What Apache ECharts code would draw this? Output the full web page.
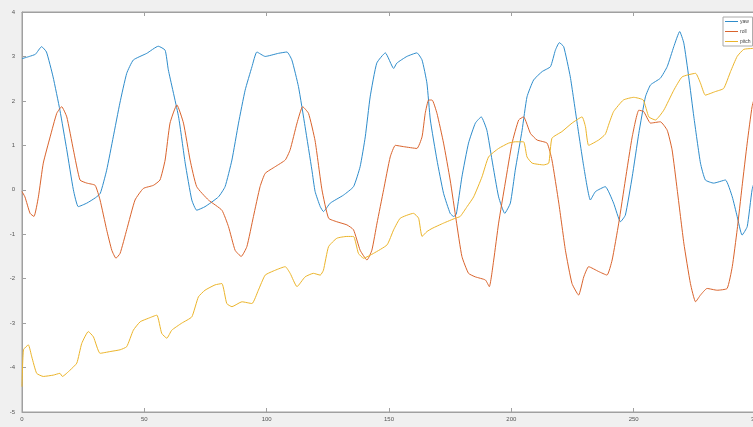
<!DOCTYPE html>
<html><head><meta charset="utf-8">
<script src="https://cdn.jsdelivr.net/npm/echarts@6/dist/echarts.min.js"></script>
<style>html,body{margin:0;padding:0;background:#f0f0f0;}#c{width:753px;height:427px;}</style>
</head><body><div id="c"></div>
<script>
const xTicks = [0, 50, 100, 150, 200, 250, 300];
const yTicks = [-5, -4, -3, -2, -1, 0, 1, 2, 3, 4];
const seriesNames = ['yaw', 'roll', 'pitch'];

const yawT = [0,3,5.5,8,10,12.7,15.5,18.3,21,23,26.5,30,32,34.6,37.3,40,42.8,45.5,51,55.7,58.5,59.8,64,66.7,69.4,71.4,74.8,80.3,83,85.8,88.5,91.2,94,96,99.4,104.8,108.3,110.3,113,115.7,118.5,119.8,121.9,123.2,126,131.4,135.5,138.2,140.3,142.3,145,148.5,151.9,153.2,157.3,161.4,163.5,165.5,166.9,169.6,172.3,175,176.4,177.5,179.8,182.5,185.3,187.7,190,192.1,194.8,197.3,199.6,201.6,204.4,206.4,209.1,212.6,216,218,219.6,221.4,224.1,226.9,229.6,232.3,234.4,238.4,241.8,244.6,246.6,249.4,252.1,254.8,256.9,260.9,263.7,266.4,268.8,270.5,272.5,274.6,277.3,279.3,282.7,287.5,290.3,292.3,294.3,296.4,298.4,300];
const yawV = [2.95,3.0,3.05,3.22,3.1,2.54,1.79,0.9,0.0,-0.38,-0.3,-0.18,-0.08,0.44,1.19,1.95,2.62,2.92,3.07,3.23,3.14,2.7,1.64,0.6,-0.23,-0.46,-0.38,-0.16,0.07,0.67,1.5,2.24,2.77,3.1,3.0,3.07,3.1,2.92,2.32,1.42,0.44,-0.04,-0.38,-0.49,-0.3,-0.12,0.07,0.52,1.19,2.09,2.85,3.08,2.73,2.85,3.0,3.08,2.92,2.4,1.57,0.67,-0.08,-0.53,-0.6,-0.55,0.29,1.05,1.5,1.64,1.34,0.67,-0.16,-0.53,-0.3,0.44,1.34,2.09,2.47,2.66,2.77,3.14,3.31,3.22,2.54,1.5,0.52,-0.23,-0.04,0.07,-0.3,-0.72,-0.57,0.29,1.27,2.09,2.36,2.51,2.77,3.22,3.56,3.3,2.54,1.64,0.6,0.22,0.15,0.22,-0.16,-0.6,-1.02,-0.83,0.0,0.3];

const rollT = [0,1.2,3.3,4.9,6.7,8.7,11.5,14.2,16.2,18.3,21,23.7,26.5,29.9,31.9,34.6,36.7,38.4,40.1,42.8,46.2,49.6,53.7,56.4,58.5,60.5,63.3,66,68.7,71.4,76.2,81.7,84.4,87.1,89.6,91.9,94.6,97.3,99.4,103.5,107.6,109.6,112.4,114.7,117.1,119.8,122.6,125.3,128.7,132.8,135.5,138.2,141,143,145.1,147.8,150.5,152.6,156,161.4,163.5,164.8,166.2,167.6,169.6,172.3,175,177.5,179.8,182.5,185.3,189.4,191,192.8,194.8,197.5,200.3,203,205,207.8,210.5,214.6,216.6,219.4,222.1,224.8,227.5,229.6,231.6,235.7,239.1,241.2,243.9,246.6,249.4,252.1,254.1,256.9,260.9,263.7,265.7,267.8,270.5,273.2,275.3,277.3,280,284.1,288.2,290.3,292.3,294.3,296.4,298.4,300];
const rollV = [-0.04,-0.16,-0.53,-0.6,-0.16,0.6,1.19,1.72,1.87,1.64,0.9,0.22,0.15,0.1,-0.23,-0.9,-1.36,-1.54,-1.43,-0.9,-0.23,0.03,0.1,0.22,0.67,1.5,1.91,1.5,0.67,0.07,-0.23,-0.46,-0.83,-1.36,-1.5,-1.28,-0.6,0.07,0.37,0.52,0.67,0.9,1.5,1.87,1.72,1.1,0.0,-0.64,-0.72,-0.79,-0.9,-1.36,-1.58,-1.36,-0.75,0.0,0.74,1.0,0.97,0.93,1.19,1.72,2.02,2.02,1.72,1.05,0.22,-0.7,-1.5,-1.88,-1.96,-2.03,-2.18,-1.58,-0.75,0.15,1.05,1.57,1.64,1.27,1.12,1.05,0.67,-0.3,-1.36,-2.11,-2.37,-1.96,-1.73,-1.84,-1.92,-1.58,-0.75,0.22,1.19,1.79,1.76,1.5,1.53,1.34,0.9,0.0,-1.2,-2.11,-2.52,-2.37,-2.22,-2.26,-2.22,-1.73,-0.9,0.07,1.05,1.87,2.2];

const pitchT = [0,0.6,2.6,4,6,8.7,12.8,15.5,16.5,19.6,22.4,24.4,27.1,29.2,31.9,36,40.1,42.8,45.5,48.3,51.7,55.1,57.1,59.2,61.2,65.3,69.4,72.1,74.8,78.9,81.7,83.7,85.8,89.9,94,96.6,99.4,103.5,107.6,109.6,112.4,115.7,119.1,121.9,123.2,125.3,128.7,132.8,135.5,137.5,139.6,143.7,149.2,151.9,154.6,160,162.1,163.5,165.5,167.6,172.3,177.1,179.1,181.9,184.6,188,190.7,194.8,198.9,201.6,205,206.4,208.5,213.2,215.3,216.6,220.7,224.8,228.9,230.3,231.6,235.7,238.4,240,241.8,245.8,250,253.9,256.2,258.9,262.3,266.4,269.8,275.3,277.3,279.3,283.4,286.8,289.6,292.3,295,298.4,300];
const pitchV = [-4.43,-3.6,-3.49,-3.76,-4.13,-4.2,-4.17,-4.13,-4.2,-4.06,-3.9,-3.46,-3.19,-3.31,-3.68,-3.64,-3.6,-3.53,-3.16,-2.97,-2.89,-2.82,-3.23,-3.34,-3.16,-3.0,-2.86,-2.41,-2.26,-2.14,-2.11,-2.56,-2.63,-2.52,-2.56,-2.26,-1.92,-1.81,-1.73,-1.88,-2.18,-1.96,-1.88,-1.92,-1.81,-1.28,-1.09,-1.05,-1.05,-1.43,-1.54,-1.43,-1.24,-0.9,-0.64,-0.53,-0.64,-1.05,-0.94,-0.87,-0.75,-0.64,-0.6,-0.38,-0.16,0.29,0.74,0.93,1.05,1.08,1.08,0.74,0.6,0.56,0.6,1.16,1.31,1.5,1.64,1.42,1.0,1.12,1.25,1.5,1.76,2.02,2.08,2.02,1.64,1.57,1.79,2.24,2.54,2.62,2.4,2.13,2.21,2.28,2.66,3.0,3.16,3.18,3.2];

const colors = ['#2e8ccb', '#d9632c', '#ebb42a'];
const zip = (t, v) => t.map((x, i) => [x, v[i]]);
const data = [zip(yawT, yawV), zip(rollT, rollV), zip(pitchT, pitchV)];

const chart = echarts.init(document.getElementById('c'));
const axisCommon = {
  type: 'value',
  axisLine: { show: true, onZero: false, lineStyle: { color: '#a0a0a0', width: 1 } },
  axisTick: { show: true, inside: true, length: 4, lineStyle: { color: '#a0a0a0' } },
  splitLine: { show: false },
};
chart.setOption({
  animation: false,
  color: colors,
  backgroundColor: '#f0f0f0',
  grid: { left: 22, top: 12, width: 734, height: 400, show: true, backgroundColor: '#ffffff', borderColor: '#a0a0a0', borderWidth: 1, containLabel: false, outerBoundsMode: 'none' },
  xAxis: [
    Object.assign({}, axisCommon, {
      min: xTicks[0], max: xTicks[xTicks.length - 1], interval: 50, position: 'bottom',
      axisLabel: { fontSize: 6, color: '#555', margin: 4, fontFamily: 'Liberation Sans' },
      name: 'Time/s', nameLocation: 'middle', nameGap: 10,
      nameTextStyle: { fontSize: 6, color: '#444', fontFamily: 'Liberation Sans' }
    }),
    Object.assign({}, axisCommon, {
      min: xTicks[0], max: xTicks[xTicks.length - 1], interval: 50, position: 'top',
      axisLabel: { show: false }
    })
  ],
  yAxis: [
    Object.assign({}, axisCommon, {
      min: yTicks[0], max: yTicks[yTicks.length - 1], interval: 1, position: 'left',
      axisLabel: { fontSize: 6, color: '#555', margin: 7, fontFamily: 'Liberation Sans' },
      name: 'Angle/Error/rad', nameLocation: 'middle', nameGap: 12, nameRotate: 90,
      nameTextStyle: { fontSize: 6, color: '#444', fontFamily: 'Liberation Sans' }
    })
  ],
  legend: {
    data: seriesNames.map((n, i) => ({ name: n, icon: 'rect', itemStyle: { color: colors[i], borderWidth: 0 } })),
    orient: 'vertical', left: 723, top: 17,
    itemWidth: 13, itemHeight: 1, itemGap: 5,
    backgroundColor: '#fff', borderColor: '#aaa', borderWidth: 1, padding: [2, 2, 2, 2],
    textStyle: { fontSize: 5, color: '#444', padding: [0, 0, 0, -3] }
  },
  series: seriesNames.map((n, i) => ({
    name: n, type: 'line', data: data[i], showSymbol: false, symbol: 'none', color: colors[i],
    lineStyle: { color: colors[i], width: 1 }, itemStyle: { color: colors[i] },
    smooth: 0.15
  }))
});
</script></body></html>
